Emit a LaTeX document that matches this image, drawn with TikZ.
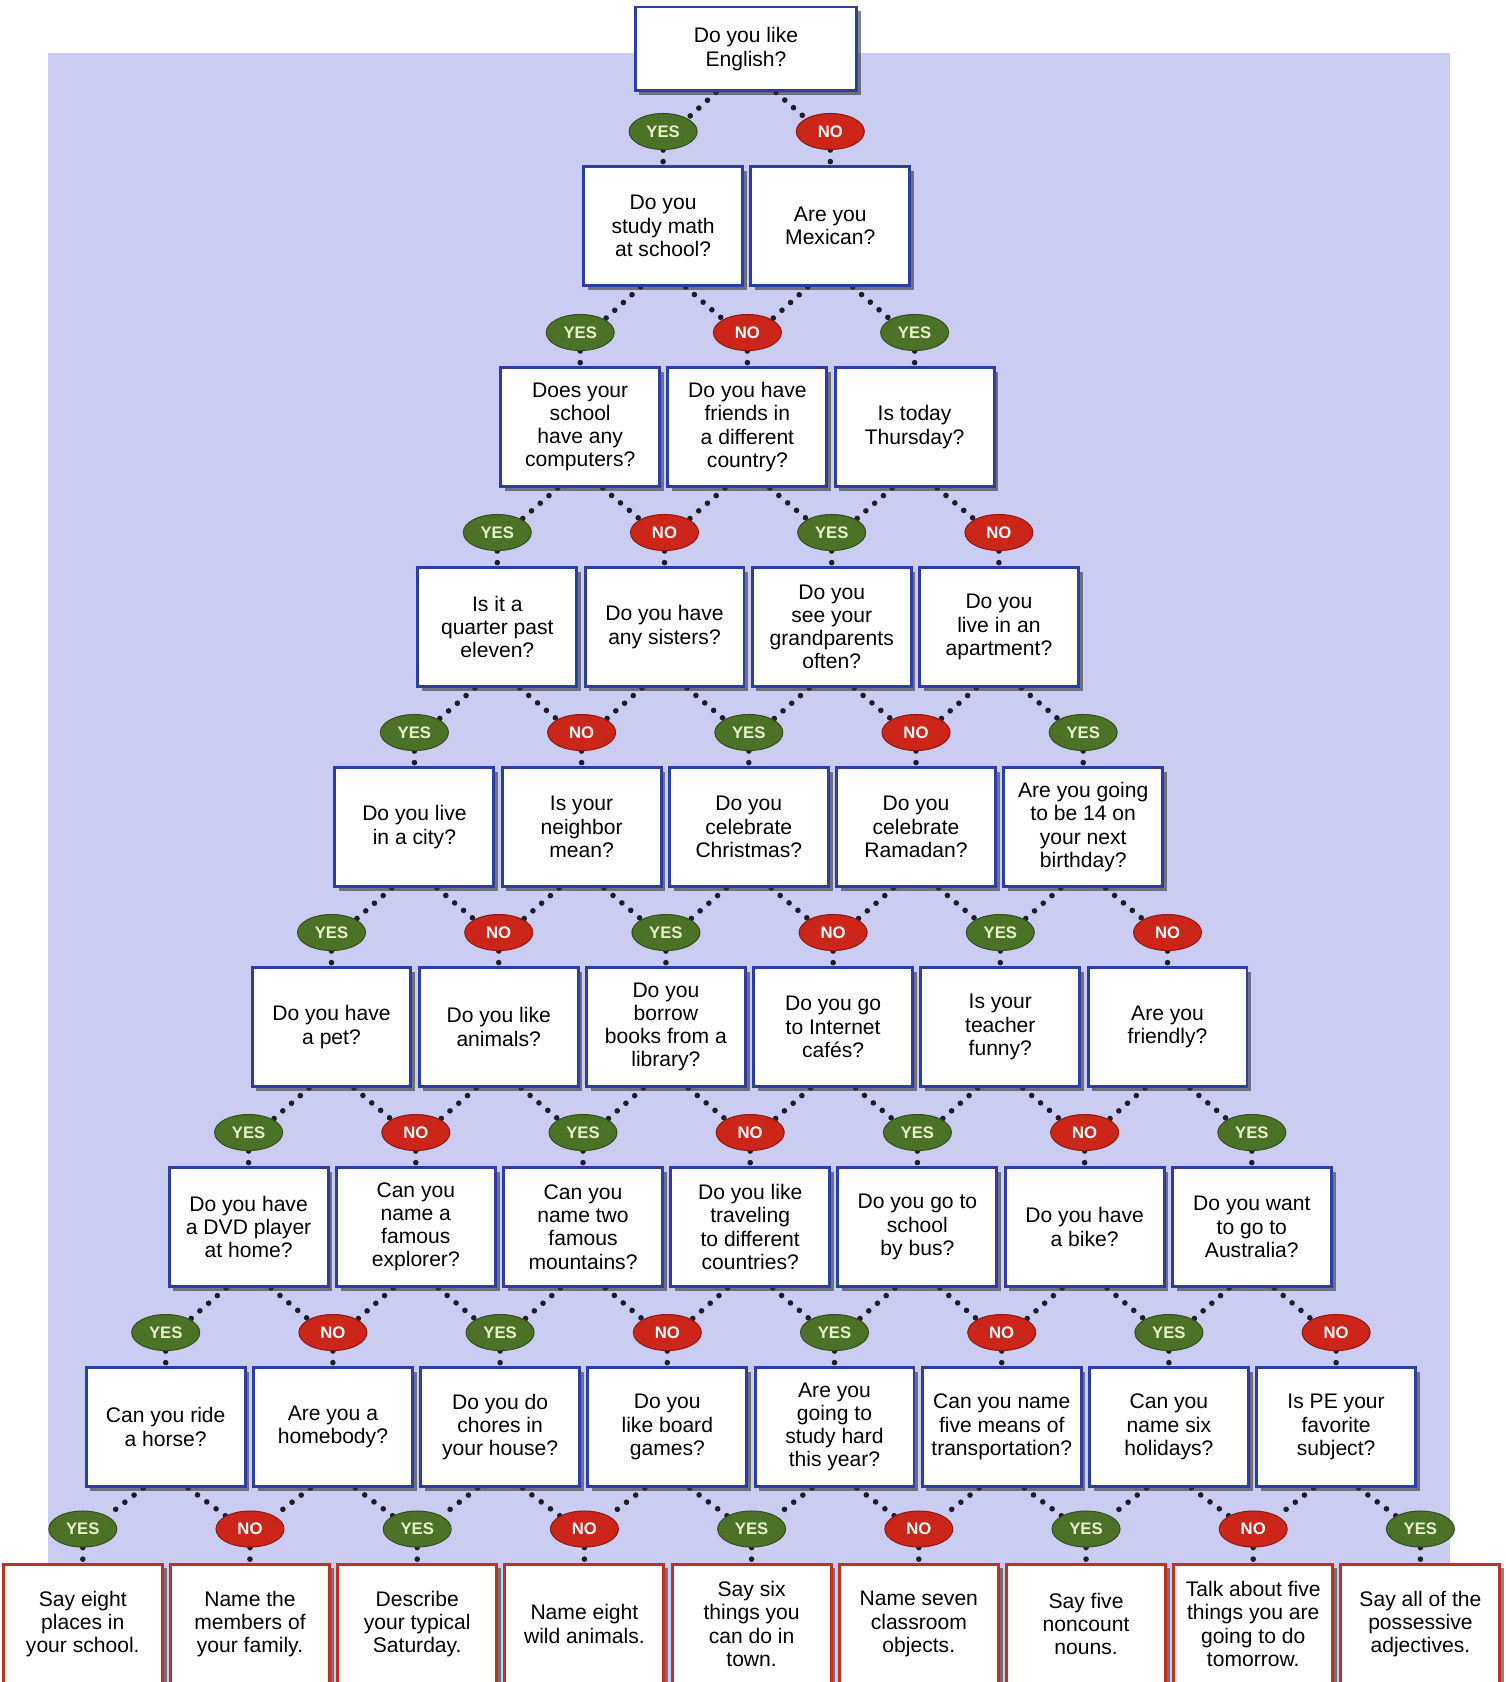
\documentclass[tikz,border=0pt]{standalone}
\usepackage{fontspec}
\setmainfont{Liberation Sans}
\usetikzlibrary{positioning,shapes.geometric,shadows}
\definecolor{qblue}{RGB}{45,62,160}
\definecolor{endred}{RGB}{196,48,32}
\definecolor{yesgreen}{RGB}{76,114,40}
\definecolor{yestext}{RGB}{232,242,200}
\definecolor{nored}{RGB}{204,38,26}
\definecolor{paper}{RGB}{203,204,241}
\definecolor{dotgray}{RGB}{30,30,40}
\pgfdeclarelayer{back}
\pgfsetlayers{back,main}
\tikzset{question/.style={draw=qblue,line width=1.7pt,fill=white,align=center,
    minimum width=3.18cm,minimum height=2.38cm,inner sep=2pt,
    font=\fontsize{12}{13.2}\selectfont,
    drop shadow={shadow xshift=2.4pt,shadow yshift=-2.4pt,opacity=.6,fill=black!80}}}
\tikzset{task/.style={question,draw=endred,minimum width=3.18cm,minimum height=2.4cm}}
\tikzset{answer/.style={ellipse,inner sep=0pt,minimum width=1.36cm,minimum height=0.72cm,
    line width=0.6pt,font=\fontsize{9.5}{10}\selectfont\bfseries}}
\tikzset{yesans/.style={answer,fill=yesgreen,draw=yesgreen!70!black,text=yestext}}
\tikzset{noans/.style={answer,fill=nored,draw=nored!70!black,text=white}}
\tikzset{dots/.style={dotgray,line width=3.2pt,line cap=round,dash pattern=on 0pt off 6.6pt}}

\begin{document}
\begin{tikzpicture}[x=0.02cm,y=-0.02cm]

  \def \midX{746}
  \def \halfPitch{83.6}

  \useasboundingbox (0,0) rectangle (1505,1682);
  \begin{pgfonlayer}{back}
    \fill[paper] (48,53) rectangle (1450,1682);
  \end{pgfonlayer}

  % questions, row by row
  \node[question,minimum width=4.44cm,minimum height=1.68cm] (q-0-1) at (\midX,49) {Do you like\\English?};

  \foreach \txt [count=\c] in {{Do you\\study math\\at school?},{Are you\\Mexican?}}
    \node[question] (q-1-\c) at ({\midX+0.7+(2*\c-3)*\halfPitch},226) {\txt};

  \foreach \txt [count=\c] in {{Does your\\school\\have any\\computers?},{Do you have\\friends in\\a different\\country?},{Is today\\Thursday?}}
    \node[question] (q-2-\c) at ({\midX+1.4+(2*\c-4)*\halfPitch},427) {\txt};

  \foreach \txt [count=\c] in {{Is it a\\quarter past\\eleven?},{Do you have\\any sisters?},{Do you\\see your\\grandparents\\often?},{Do you\\live in an\\apartment?}}
    \node[question] (q-3-\c) at ({\midX+2.1+(2*\c-5)*\halfPitch},627) {\txt};

  \foreach \txt [count=\c] in {{Do you live\\in a city?},{Is your\\neighbor\\mean?},{Do you\\celebrate\\Christmas?},{Do you\\celebrate\\Ramadan?},{Are you going\\to be 14 on\\your next\\birthday?}}
    \node[question] (q-4-\c) at ({\midX+2.8+(2*\c-6)*\halfPitch},827) {\txt};

  \foreach \txt [count=\c] in {{Do you have\\a pet?},{Do you like\\animals?},{Do you\\borrow\\books from a\\library?},{Do you go\\to Internet\\cafés?},{Is your\\teacher\\funny?},{Are you\\friendly?}}
    \node[question] (q-5-\c) at ({\midX+3.5+(2*\c-7)*\halfPitch},1027) {\txt};

  \foreach \txt [count=\c] in {{Do you have\\a DVD player\\at home?},{Can you\\name a\\famous\\explorer?},{Can you\\name two\\famous\\mountains?},{Do you like\\traveling\\to different\\countries?},{Do you go to\\school\\by bus?},{Do you have\\a bike?},{Do you want\\to go to\\Australia?}}
    \node[question] (q-6-\c) at ({\midX+4.2+(2*\c-8)*\halfPitch},1227) {\txt};

  \foreach \txt [count=\c] in {{Can you ride\\a horse?},{Are you a\\homebody?},{Do you do\\chores in\\your house?},{Do you\\like board\\games?},{Are you\\going to\\study hard\\this year?},{Can you name\\five means of\\transportation?},{Can you\\name six\\holidays?},{Is PE your\\favorite\\subject?}}
    \node[question] (q-7-\c) at ({\midX+4.9+(2*\c-9)*\halfPitch},1427) {\txt};

  \foreach \txt [count=\c] in {{Say eight\\places in\\your school.},{Name the\\members of\\your family.},{Describe\\your typical\\Saturday.},{Name eight\\wild animals.},{Say six\\things you\\can do in\\town.},{Name seven\\classroom\\objects.},{Say five\\noncount\\nouns.},{Talk about five\\things you are\\going to do\\tomorrow.},{Say all of the\\possessive\\adjectives.}}
    \node[task] (q-8-\c) at ({\midX+5.6+(2*\c-10)*\halfPitch},1624) {\txt};

  % yes / no ovals above each box
  \foreach \r in {1,...,8} {
    \pgfmathtruncatemacro\n{\r+1}
    \foreach \c in {1,...,\n} {
      \ifodd\c\relax
        \node[yesans,above=0.3cm of q-\r-\c] (a-\r-\c) {YES};
      \else
        \node[noans,above=0.3cm of q-\r-\c] (a-\r-\c) {NO};
      \fi
    }
  }

  % dotted links
  \begin{pgfonlayer}{back}
    \draw[dots] ([xshift=-0.6cm]q-0-1.south) -- (a-1-1.north east);
    \draw[dots] ([xshift=0.6cm]q-0-1.south) -- (a-1-2.north west);
    \foreach \r in {1,...,7} {
      \pgfmathtruncatemacro\rr{\r+1}
      \foreach \c in {1,...,\rr} {
        \pgfmathtruncatemacro\cc{\c+1}
        \draw[dots] ([xshift=-0.45cm]q-\r-\c.south) -- (a-\rr-\c.north east);
        \draw[dots] ([xshift=0.45cm]q-\r-\c.south) -- (a-\rr-\cc.north west);
      }
    }
    \foreach \r in {1,...,8} {
      \pgfmathtruncatemacro\n{\r+1}
      \foreach \c in {1,...,\n}
        \draw[dots] (a-\r-\c.south) -- (q-\r-\c.north);
    }
  \end{pgfonlayer}

\end{tikzpicture}
\end{document}
